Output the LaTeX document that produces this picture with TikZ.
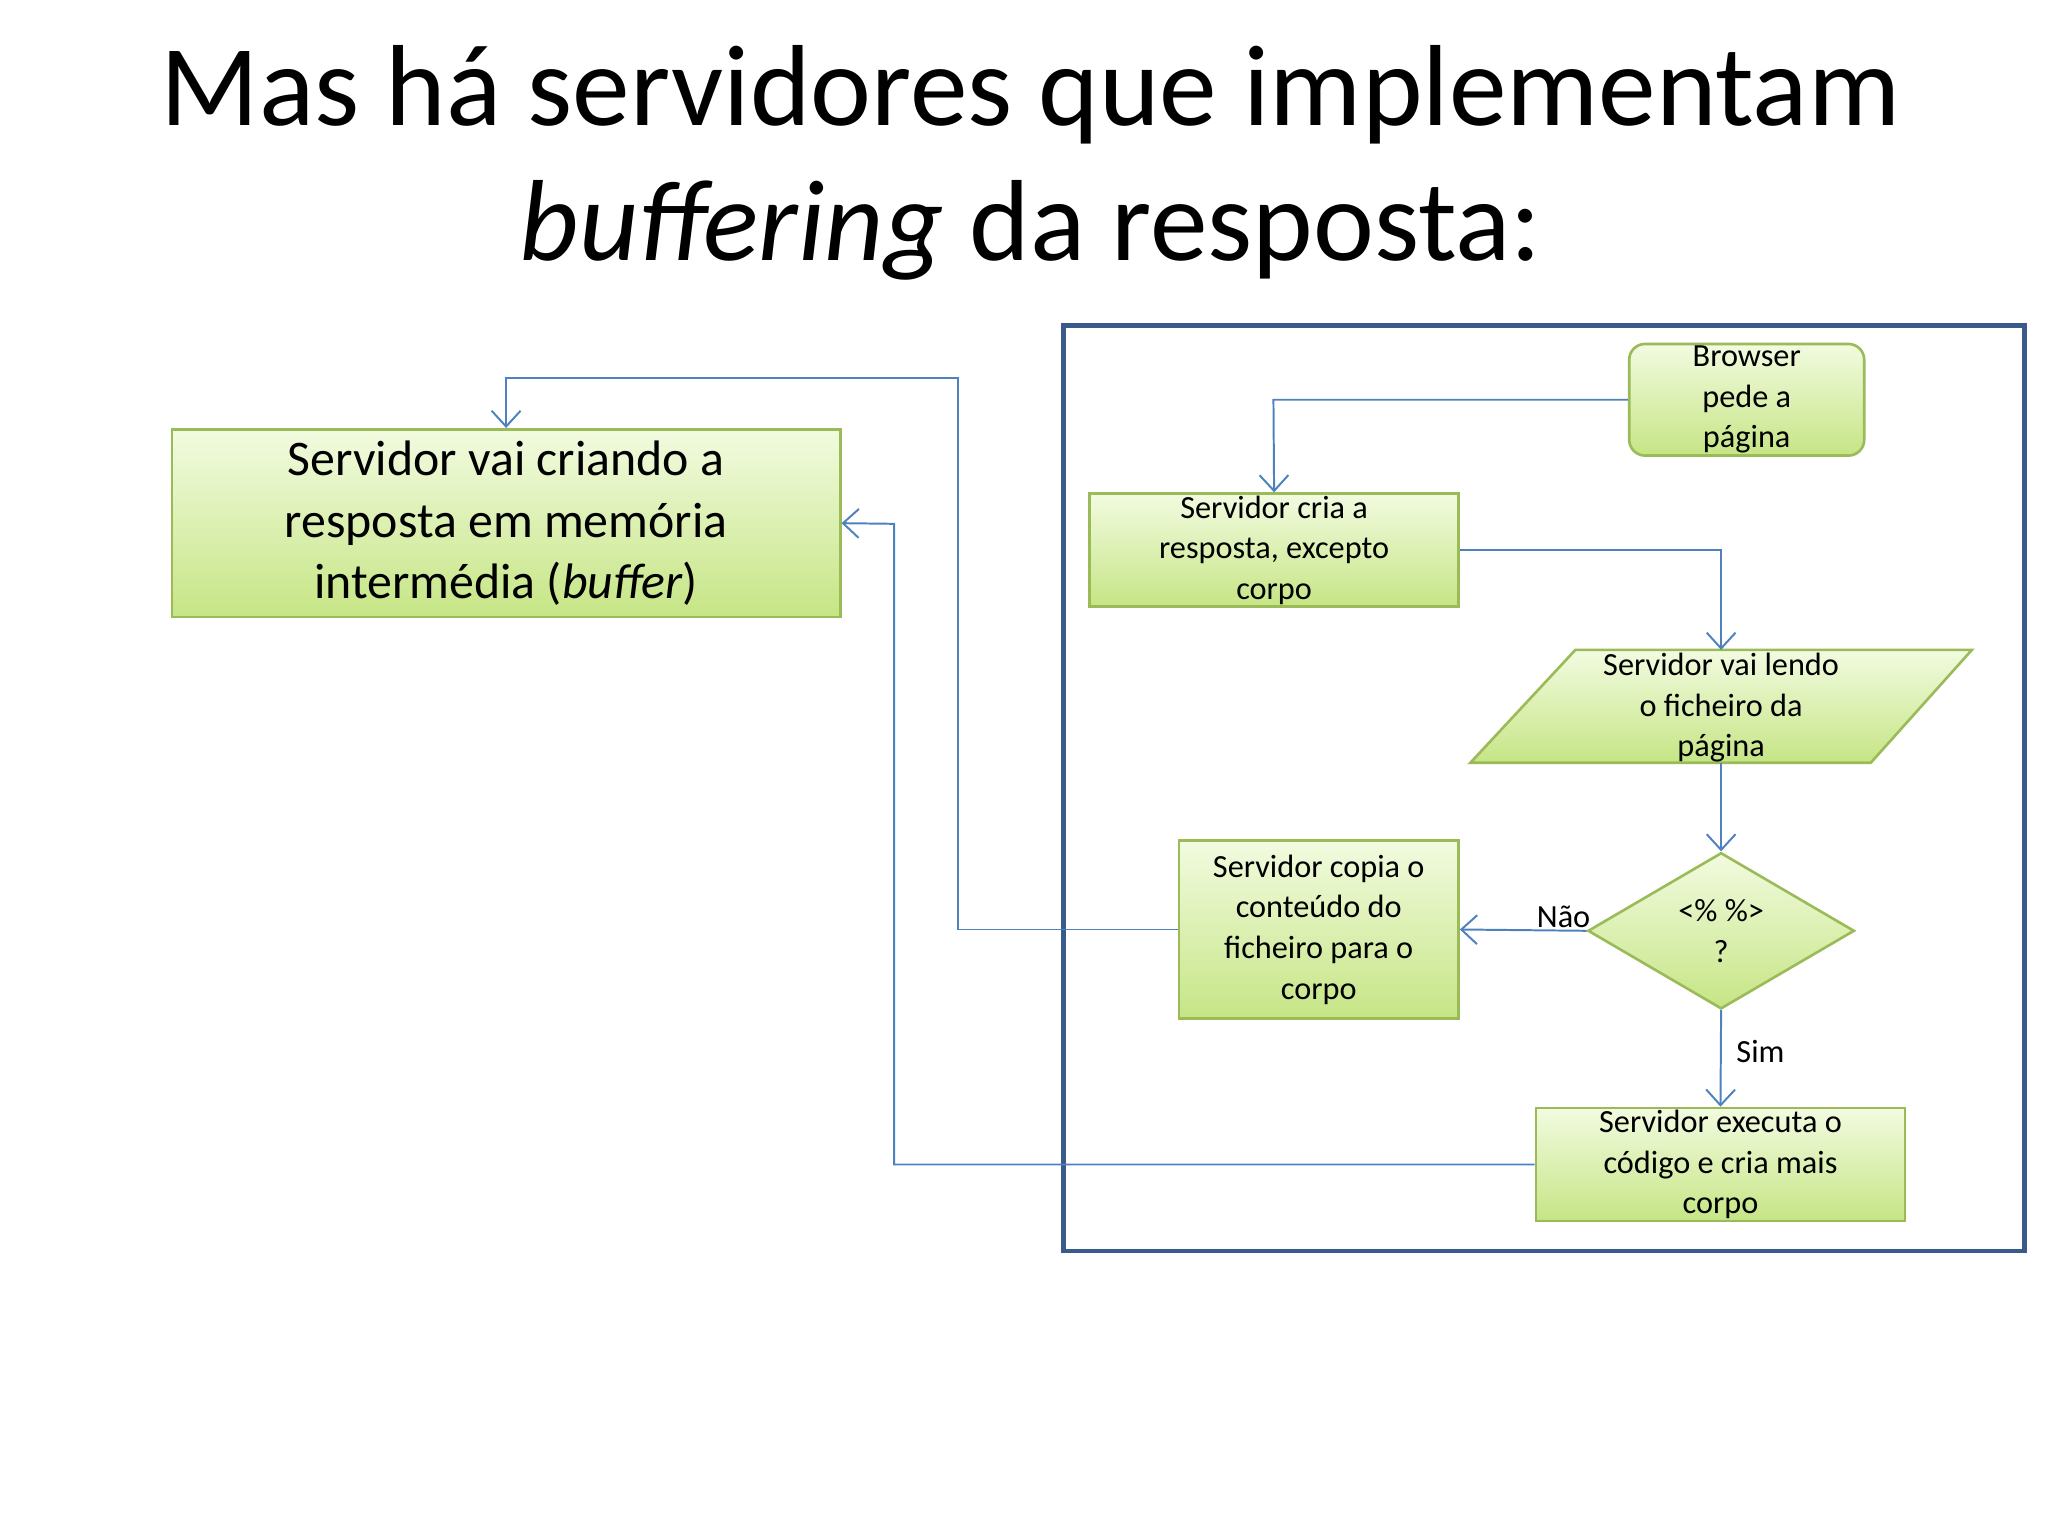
\documentclass[tikz,border=0pt]{standalone}
\usepackage{fontspec}
\setmainfont{Carlito}
\usetikzlibrary{shapes.geometric,arrows.meta}
\definecolor{bord}{HTML}{9BBB59}
\definecolor{gtop}{HTML}{F2FBE0}
\definecolor{gbot}{HTML}{C6E585}
\definecolor{arr}{HTML}{4F81BD}
\definecolor{frame}{HTML}{3A5A8C}
\tikzset{
  box/.style={draw=bord,line width=0.1cm,top color=gtop,bottom color=gbot,align=center,inner sep=0,font=\fontsize{35}{44}\selectfont},
  bigbox/.style={box,font=\fontsize{54}{67}\selectfont},
  conn/.style={draw=arr,line width=0.075cm,-{Straight Barb[length=0.6cm,width=1.1cm]}},
  lbl/.style={font=\fontsize{35}{44}\selectfont,inner sep=0}
}
\begin{document}
\begin{tikzpicture}[x=0.05cm,y=-0.05cm]
\useasboundingbox (0,0) rectangle (1560,1170);
\node[font=\fontsize{125}{146}\selectfont,align=center] (title) at (785,124) {Mas há servidores que implementam\\\textit{buffering} da resposta:};
\draw[frame,line width=0.17cm] (810,248) rectangle (1542,953);
\node[bigbox,minimum width=509*0.05cm,minimum height=143*0.05cm] (mem) at (385.5,398.5) {Servidor vai criando a\\resposta em memória\\intermédia (\textit{buffer})};
\node[box,rounded corners=0.6cm,minimum width=179*0.05cm,minimum height=85*0.05cm] (br) at (1330.5,304.5) {Browser\\pede a\\página};
\node[box,minimum width=281*0.05cm,minimum height=86*0.05cm] (cria) at (970.5,419) {Servidor cria a\\resposta, excepto\\corpo};
\draw[bord,line width=0.1cm,top color=gtop,bottom color=gbot] (1120,581) -- (1200,495) -- (1502,495) -- (1425,581) -- cycle;
\node[lbl,align=center] (par) at (1311,539) {Servidor vai lendo\\o ficheiro da\\página};
\coordinate (pt) at (1311,495);
\coordinate (pb) at (1311,581);
\node[box,diamond,minimum width=203*0.05cm,minimum height=119*0.05cm] (dia) at (1311,709) {<\% \%>\\?};
\node[box,minimum width=213*0.05cm,minimum height=136*0.05cm] (cop) at (1004.5,708) {Servidor copia o\\conteúdo do\\ficheiro para o\\corpo};
\node[box,minimum width=281*0.05cm,minimum height=86*0.05cm] (exe) at (1310.5,887) {Servidor executa o\\código e cria mais\\corpo};
\draw[conn] (br.west) -- (970,304.5) -- (cria.north);
\draw[conn] (cria.east) -- (1311,419) -- (pt);
\draw[conn] (pb) -- (dia.north);
\draw[conn] (dia.west) -- (cop.east);
\draw[conn] (dia.south) -- (exe.north);
\draw[conn] (cop.west) -- (730,708) -- (730,288) -- (385.5,288) -- (mem.north);
\draw[conn] (exe.west) -- (681,887) -- (681,399) -- (mem.east);
\node[lbl] (nao) at (1191,698) {Não};
\node[lbl] (sim) at (1341,801) {Sim};
\end{tikzpicture}
\end{document}
